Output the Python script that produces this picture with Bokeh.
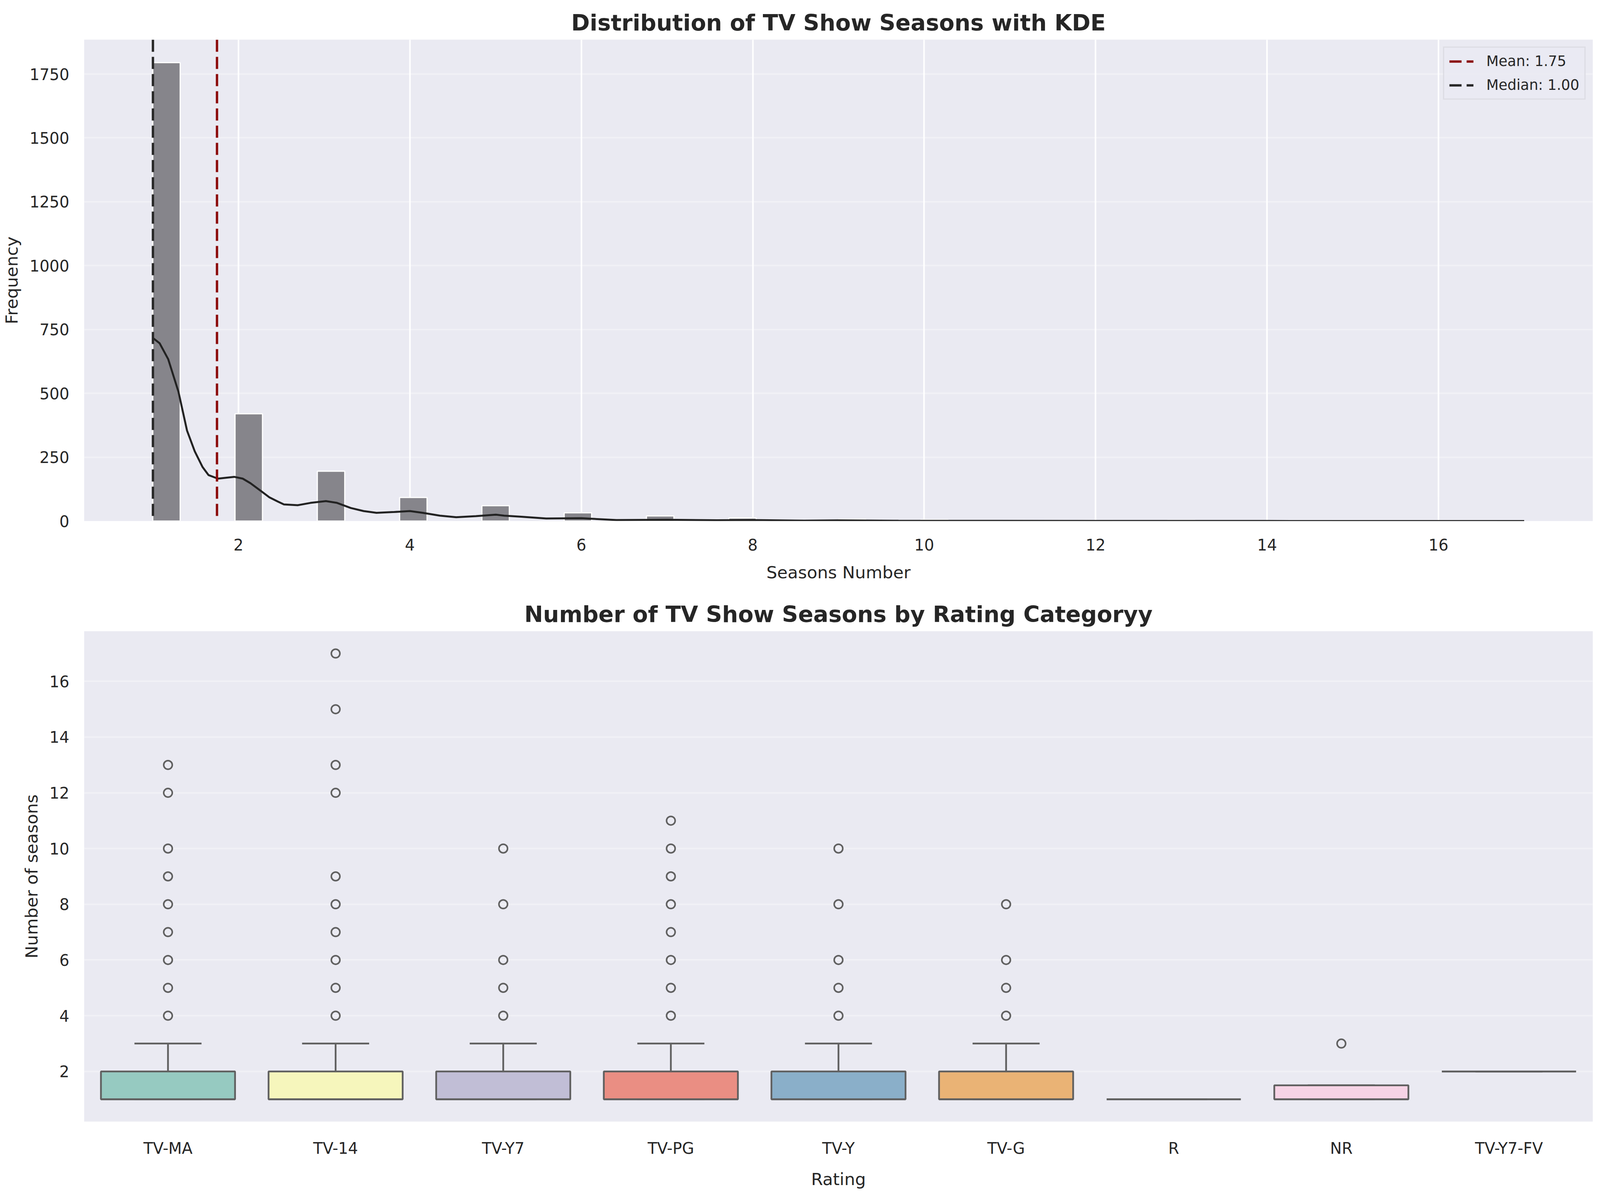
from bokeh.plotting import figure
from bokeh.layouts import column
from bokeh.models import FixedTicker, Range1d, ColumnDataSource
from bokeh.transform import dodge
from bokeh.embed import file_html
from bokeh.resources import INLINE
import numpy as np

# --- histogram: number of shows per season count ---
seasons = [1, 2, 3, 4, 5, 6, 7, 8, 9, 10, 11, 12, 13, 15, 17]
season_counts = [1795, 420, 195, 92, 60, 32, 20, 12, 6, 5, 2, 2, 3, 2, 1]
n_bins = 50

# KDE curve (in count units)
kde_x = [1.00, 1.08, 1.18, 1.30, 1.40, 1.49, 1.58, 1.65, 1.76, 1.95, 2.05, 2.14,
         2.26, 2.36, 2.46, 2.53, 2.69, 2.84, 3.02, 3.15, 3.31, 3.46, 3.61, 3.80,
         4.00, 4.15, 4.35, 4.54, 4.77, 5.00, 5.10, 5.30, 5.59, 6.00, 6.41, 7.00,
         7.58, 8.00, 8.60, 9.00, 9.70, 10.5, 12.0, 14.0, 17.0]
kde_y = [717, 696, 634, 506, 354, 273, 212, 180, 166, 173, 166, 148,
         118, 93, 76, 65, 62, 71, 78, 71, 51, 39, 32, 35,
         39, 32, 21, 15, 19, 25, 21, 17, 10, 11, 4, 5,
         3, 4, 1.5, 2.5, 1, 0.8, 0.4, 0.2, 0.1]

mean_seasons = 1.75
median_seasons = 1.00

hist_xticks = [2, 4, 6, 8, 10, 12, 14, 16]
hist_yticks = [0, 250, 500, 750, 1000, 1250, 1500, 1750]

# --- box plot by rating ---
ratings = ["TV-MA", "TV-14", "TV-Y7", "TV-PG", "TV-Y", "TV-G", "R", "NR", "TV-Y7-FV"]
box_q1 = [1, 1, 1, 1, 1, 1, 1, 1, 2]
box_median = [1, 1, 1, 1, 1, 1, 1, 1, 2]
box_q3 = [2, 2, 2, 2, 2, 2, 1, 1.5, 2]
whisker_low = [1, 1, 1, 1, 1, 1, 1, 1, 2]
whisker_high = [3, 3, 3, 3, 3, 3, 1, 1.5, 2]
box_outliers = [
    [4, 5, 6, 7, 8, 9, 10, 12, 13],
    [4, 5, 6, 7, 8, 9, 12, 13, 15, 17],
    [4, 5, 6, 8, 10],
    [4, 5, 6, 7, 8, 9, 10, 11],
    [4, 5, 6, 8, 10],
    [4, 5, 6, 8],
    [],
    [3],
    [],
]
box_colors = ["#96cac1", "#f6f6bc", "#c1bed6", "#ea8e83", "#8aafc9",
              "#eab375", "#bdd78e", "#f6d3e5", "#d9d9d9"]
box_yticks = [2, 4, 6, 8, 10, 12, 14, 16]

FONT = "DejaVu Sans"
TEXT = "#262626"
BG = "#eaeaf2"
BOX_LINE = "#606060"

# the browser only shows ~4170 css px across but the full 3061 down
SX = 0.832   # horizontal sizes
F = 0.87     # font sizes


def hx(v):
    return int(round(v * SX))


def fs(v):
    return f"{v * F:.1f}px"


W = hx(4926)


def style(p, xlabel, ylabel):
    p.outline_line_color = None
    p.title.text_font = FONT
    p.title.text_font_size = fs(66)
    p.title.text_font_style = "bold"
    p.title.text_color = TEXT
    p.title.align = "center"
    p.title.standoff = 20
    for ax in (p.xaxis, p.yaxis):
        ax.axis_line_color = None
        ax.major_tick_line_color = None
        ax.minor_tick_line_color = None
        ax.major_tick_out = 0
        ax.major_label_text_font = FONT
        ax.major_label_text_font_size = fs(46)
        ax.major_label_text_color = TEXT
        ax.axis_label_text_font = FONT
        ax.axis_label_text_font_size = fs(50)
        ax.axis_label_text_font_style = "normal"
        ax.axis_label_text_color = TEXT
    p.xaxis.axis_label = xlabel
    p.yaxis.axis_label = ylabel
    p.xaxis.major_label_standoff = 45
    p.yaxis.major_label_standoff = hx(46)
    p.xaxis.axis_label_standoff = 28
    p.yaxis.axis_label_standoff = hx(22)
    p.ygrid.grid_line_color = "white"
    p.ygrid.grid_line_alpha = 0.35
    p.ygrid.grid_line_width = 4


# ---------------- top: histogram with KDE ----------------
edges = np.linspace(min(seasons), max(seasons), n_bins + 1)
idx = np.clip(np.searchsorted(edges, seasons, side="right") - 1, 0, n_bins - 1)
hist_src = ColumnDataSource(data=dict(left=edges[idx], right=edges[idx + 1],
                                      top=season_counts))

span = max(seasons) - min(seasons)
p1 = figure(width=W, height=1492,
            x_range=Range1d(min(seasons) - 0.05 * span, max(seasons) + 0.05 * span),
            y_range=Range1d(0, max(season_counts) * 1.05),
            title="Distribution of TV Show Seasons with KDE",
            output_backend="svg", toolbar_location=None,
            background_fill_color=BG, border_fill_color="white",
            min_border_left=hx(259), min_border_right=hx(25),
            min_border_top=101, min_border_bottom=136)
style(p1, "Seasons Number", "Frequency")
p1.xaxis.ticker = FixedTicker(ticks=hist_xticks)
p1.yaxis.ticker = FixedTicker(ticks=hist_yticks)
p1.xgrid.grid_line_color = "white"
p1.xgrid.grid_line_width = 4

p1.quad(left="left", right="right", bottom=0, top="top", source=hist_src,
        fill_color="#86858b", line_color="white", line_width=3)
p1.line(kde_x, kde_y, line_color="#222222", line_width=5)
p1.vspan(x=[mean_seasons], line_color="#8b0a0a", line_width=6, line_dash="31 13",
         legend_label=f"Mean: {mean_seasons:.2f}")
p1.vspan(x=[median_seasons], line_color="#262626", line_width=6, line_dash="31 13",
         legend_label=f"Median: {median_seasons:.2f}")

lg = p1.legend[0]
lg.location = "top_right"
lg.margin = 18
lg.padding = 13
lg.spacing = 18
lg.label_text_font = FONT
lg.label_text_font_size = fs(42)
lg.label_text_color = TEXT
lg.label_standoff = hx(40)
lg.glyph_width = hx(75)
lg.glyph_height = 40
lg.label_height = 40
lg.border_line_color = "#cfcfd6"
lg.border_line_width = 3
lg.background_fill_color = BG
lg.background_fill_alpha = 0.8

# ---------------- bottom: box plot ----------------
box_src = ColumnDataSource(data=dict(rating=ratings, q1=box_q1, q3=box_q3,
                                     med=box_median, lo=whisker_low, hi=whisker_high,
                                     color=box_colors))
out_x = [r for r, vals in zip(ratings, box_outliers) for _ in vals]
out_y = [v for vals in box_outliers for v in vals]

p2 = figure(width=W, height=1553, x_range=ratings,
            y_range=Range1d(0.2, 17.8),
            title="Number of TV Show Seasons by Rating Categoryy",
            output_backend="svg", toolbar_location=None,
            background_fill_color=BG, border_fill_color="white",
            min_border_left=hx(259), min_border_right=hx(25),
            min_border_top=123, min_border_bottom=171)
style(p2, "Rating", "Number of seasons")
p2.yaxis.ticker = FixedTicker(ticks=box_yticks)
p2.xgrid.grid_line_color = None

lw = 4.5
# whiskers and caps
p2.segment(x0="rating", x1="rating", y0="q3", y1="hi", source=box_src,
           line_color=BOX_LINE, line_width=lw)
p2.segment(x0="rating", x1="rating", y0="lo", y1="q1", source=box_src,
           line_color=BOX_LINE, line_width=lw)
p2.segment(x0=dodge("rating", -0.2, range=p2.x_range), x1=dodge("rating", 0.2, range=p2.x_range),
           y0="hi", y1="hi", source=box_src, line_color=BOX_LINE, line_width=lw)
p2.segment(x0=dodge("rating", -0.2, range=p2.x_range), x1=dodge("rating", 0.2, range=p2.x_range),
           y0="lo", y1="lo", source=box_src, line_color=BOX_LINE, line_width=lw)
# boxes
p2.vbar(x="rating", width=0.8, bottom="q1", top="q3", source=box_src,
        fill_color="color", line_color=BOX_LINE, line_width=lw)
# medians
p2.segment(x0=dodge("rating", -0.4, range=p2.x_range), x1=dodge("rating", 0.4, range=p2.x_range),
           y0="med", y1="med", source=box_src, line_color=BOX_LINE, line_width=lw)
# outliers
p2.scatter(out_x, out_y, size=22, fill_color=None, line_color=BOX_LINE, line_width=4)

layout = column(p1, p2)
open("out.html", "w").write(file_html(layout, INLINE))
